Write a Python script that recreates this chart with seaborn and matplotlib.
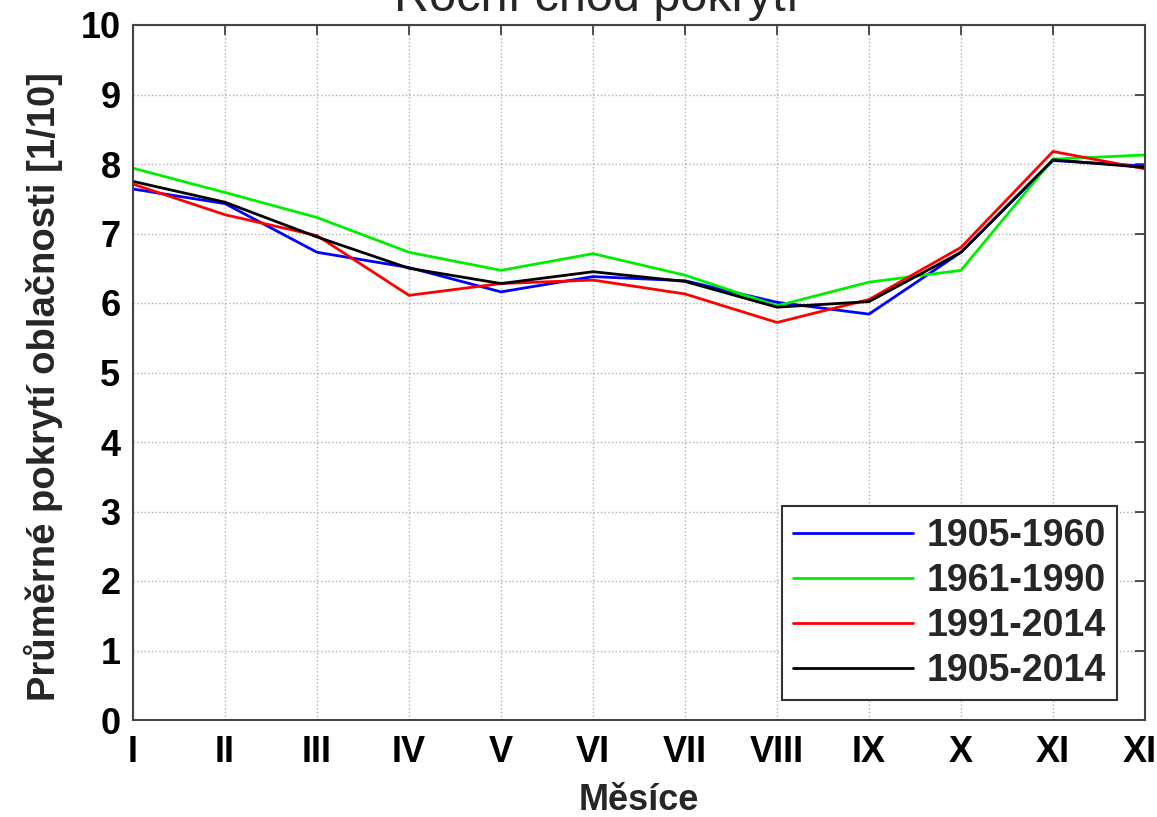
import numpy as np
import pandas as pd
import matplotlib
matplotlib.use("Agg")
import matplotlib.pyplot as plt
import seaborn as sns

months = ["I", "II", "III", "IV", "V", "VI", "VII", "VIII", "IX", "X", "XI", "XII"]
periods = ["1905-1960", "1961-1990", "1991-2014", "1905-2014"]
v_1905_1960 = [7.64, 7.43, 6.73, 6.51, 6.16, 6.38, 6.32, 6.01, 5.84, 6.73, 8.05, 7.97]
v_1961_1990 = [7.94, 7.59, 7.23, 6.73, 6.47, 6.71, 6.40, 5.96, 6.30, 6.47, 8.07, 8.13]
v_1991_2014 = [7.71, 7.27, 6.97, 6.11, 6.28, 6.33, 6.13, 5.72, 6.05, 6.80, 8.18, 7.93]
v_1905_2014 = [7.75, 7.45, 6.95, 6.50, 6.28, 6.45, 6.31, 5.94, 6.02, 6.73, 8.06, 7.95]
colors = ["#0000ff", "#00ee00", "#ff0000", "#000000"]

series = [v_1905_1960, v_1961_1990, v_1991_2014, v_1905_2014]
rows = []
for p, vals in zip(periods, series):
    for i, v in enumerate(vals):
        rows.append({"month": i, "value": v, "period": p})
df = pd.DataFrame(rows)

sns.set_theme(style="white")
plt.rcParams["font.family"] = ["Liberation Sans", "DejaVu Sans"]

fig = plt.figure(figsize=(11.57, 8.17), dpi=100)
ax = fig.add_axes([133 / 1157, 1 - 720 / 817, (1145 - 133) / 1157, (720 - 25) / 817])

sns.lineplot(data=df, x="month", y="value", hue="period", hue_order=periods,
             palette=colors, linewidth=2, ax=ax, legend=True)

ax.set_xlim(0, 11)
ax.set_ylim(0, 10)
ax.set_xticks(range(12))
ax.set_xticklabels(months)
ax.set_yticks(range(11))
ax.grid(True, linestyle=":", color="#b0b0b0", linewidth=1)
ax.tick_params(direction="in", top=True, right=True, length=7, width=1.2,
               labelsize=26, colors="#333333", labelcolor="black")
ax.tick_params(axis="x", pad=11)
ax.tick_params(axis="y", pad=9)
for lab in ax.get_xticklabels() + ax.get_yticklabels():
    lab.set_fontweight("bold")
for s in ax.spines.values():
    s.set_color("#444444")
    s.set_linewidth(1.5)
    s.set_visible(True)

ax.set_xlabel("Měsíce", fontsize=26, fontweight="bold", labelpad=9)
ax.set_ylabel("Průměrné pokrytí oblačnosti [1/10]", fontsize=27.5, fontweight="bold")
ax.yaxis.set_label_coords(-0.069, 0.48)

leg = ax.legend(loc="lower right", bbox_to_anchor=(0.9723, 0.0288),
                prop={"weight": "bold", "size": 27},
                frameon=True, fancybox=False, edgecolor="#333333", framealpha=1,
                handlelength=3.2, handletextpad=0.35, borderpad=0.3,
                borderaxespad=0.0, labelspacing=0.24)
leg.get_frame().set_linewidth(1.5)
for line in leg.get_lines():
    line.set_linewidth(2)

fig.text(597 / 1157, 1 - 11 / 817, "Roční chod pokrytí", ha="center", va="baseline",
         fontsize=35, family=["Liberation Sans", "DejaVu Sans"])

fig.savefig("out.png", dpi=100)
